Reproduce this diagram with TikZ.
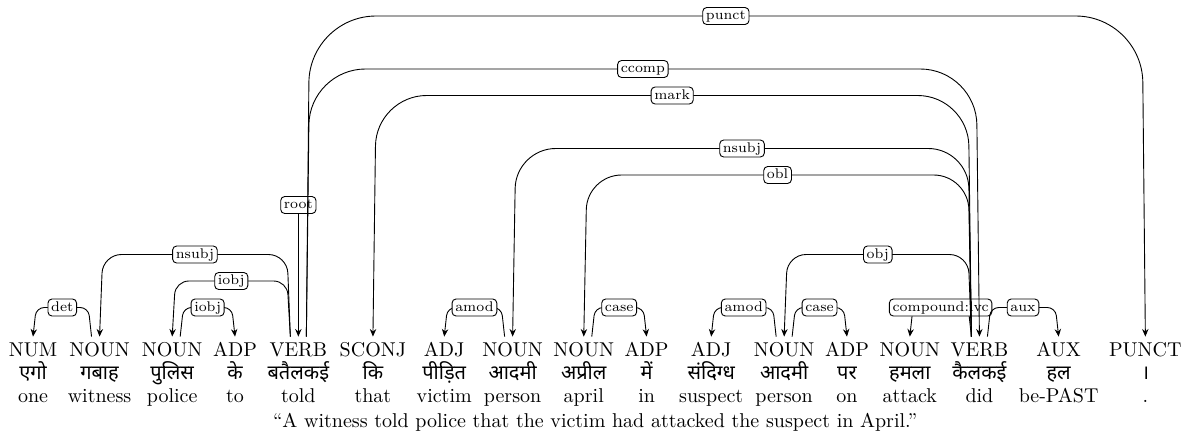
\documentclass[tikz,border=0pt]{standalone}
\usepackage{fontspec}
\newfontfamily\deva[Script=Devanagari]{Noto Sans}
\usetikzlibrary{matrix,calc,arrows.meta}

\tikzset{
  depline/.style={line width=0.45pt, -{Stealth[length=3.8pt,width=3.2pt]}},
  deplabel/.style={draw, line width=0.45pt, fill=white, rounded corners=2pt,
    font=\fontsize{7}{8}\selectfont, inner xsep=1.6pt, inner ysep=1pt,
    text height=5pt, text depth=1.5pt},
}

% dependency arc: #1 head node, #2 start offset, #3 dependent node, #4 level, #5 relation
\newcommand\arcedge[5]{%
  \pgfmathsetmacro\archy{334-26.5*#4}%
  \pgfmathsetmacro\arcr{0.1*(338-\archy)+1}%
  \draw[depline, rounded corners=\arcr pt]
    ([xshift=#2,yshift=2.5pt]#1.north) coordinate (arcs)
    -- ($(arcs |- 0,\archy)+(0.4*#2,0pt)$)
    -- ($(#3.north |- 0,\archy)-(0.4*#2,0pt)$) node[deplabel, midway] {#5}
    -- ([yshift=2.5pt]#3.north);
}

\begin{document}
\begin{tikzpicture}[x=0.5pt,y=-0.5pt]
\useasboundingbox (0,0) rectangle (1193,434);

\matrix (m) [matrix of nodes, column sep=5.3pt, row sep=2.1pt,
  nodes={inner sep=0pt, text height=7pt, text depth=2.5pt},
  row 2/.style={nodes={font=\deva, yshift=-1pt}},
  matrix anchor=m-1-1.base] at (33,356) {
NUM & NOUN & NOUN & ADP & VERB & SCONJ & ADJ & NOUN & NOUN & ADP & ADJ & NOUN & ADP & NOUN & VERB & AUX & PUNCT \\
एगो & गबाह & पुलिस & के & बतैलकई & कि & पीड़ित & आदमी & अप्रील & में & संदिग्ध & आदमी & पर & हमला & कैलकई & हल & । \\
one & witness & police & to & told & that & victim & person & april & in & suspect & person & on & attack & did & be-PAST & . \\
};

\node[anchor=base] (sent) at ($(m.center |- m-3-1.base)+(0,25.5)$)
  {“A witness told police that the victim had attacked the suspect in April.”};

% root of the sentence
\node[deplabel] (rootlab) at ($(m-1-5.north |- 0,205)$) {root};
\draw[depline] (rootlab) -- ([yshift=2.5pt]m-1-5.north);

% short arcs
\arcedge{m-1-2}{-4pt}{m-1-1}{1}{det}
\arcedge{m-1-3}{4pt}{m-1-4}{1}{iobj}
\arcedge{m-1-8}{-4pt}{m-1-7}{1}{amod}
\arcedge{m-1-9}{4pt}{m-1-10}{1}{case}
\arcedge{m-1-12}{-4pt}{m-1-11}{1}{amod}
\arcedge{m-1-12}{4pt}{m-1-13}{1}{case}
\arcedge{m-1-15}{-4pt}{m-1-14}{1}{compound:lvc}
\arcedge{m-1-15}{4pt}{m-1-16}{1}{aux}

% longer arcs
\arcedge{m-1-5}{-4pt}{m-1-3}{2}{iobj}
\arcedge{m-1-5}{-4pt}{m-1-2}{3}{nsubj}
\arcedge{m-1-15}{-4pt}{m-1-12}{3}{obj}
\arcedge{m-1-15}{-4pt}{m-1-9}{6}{obl}
\arcedge{m-1-15}{-4pt}{m-1-8}{7}{nsubj}
\arcedge{m-1-15}{-4pt}{m-1-6}{9}{mark}
\arcedge{m-1-5}{4pt}{m-1-15}{10}{ccomp}
\arcedge{m-1-5}{4pt}{m-1-17}{12}{punct}
\end{tikzpicture}
\end{document}
